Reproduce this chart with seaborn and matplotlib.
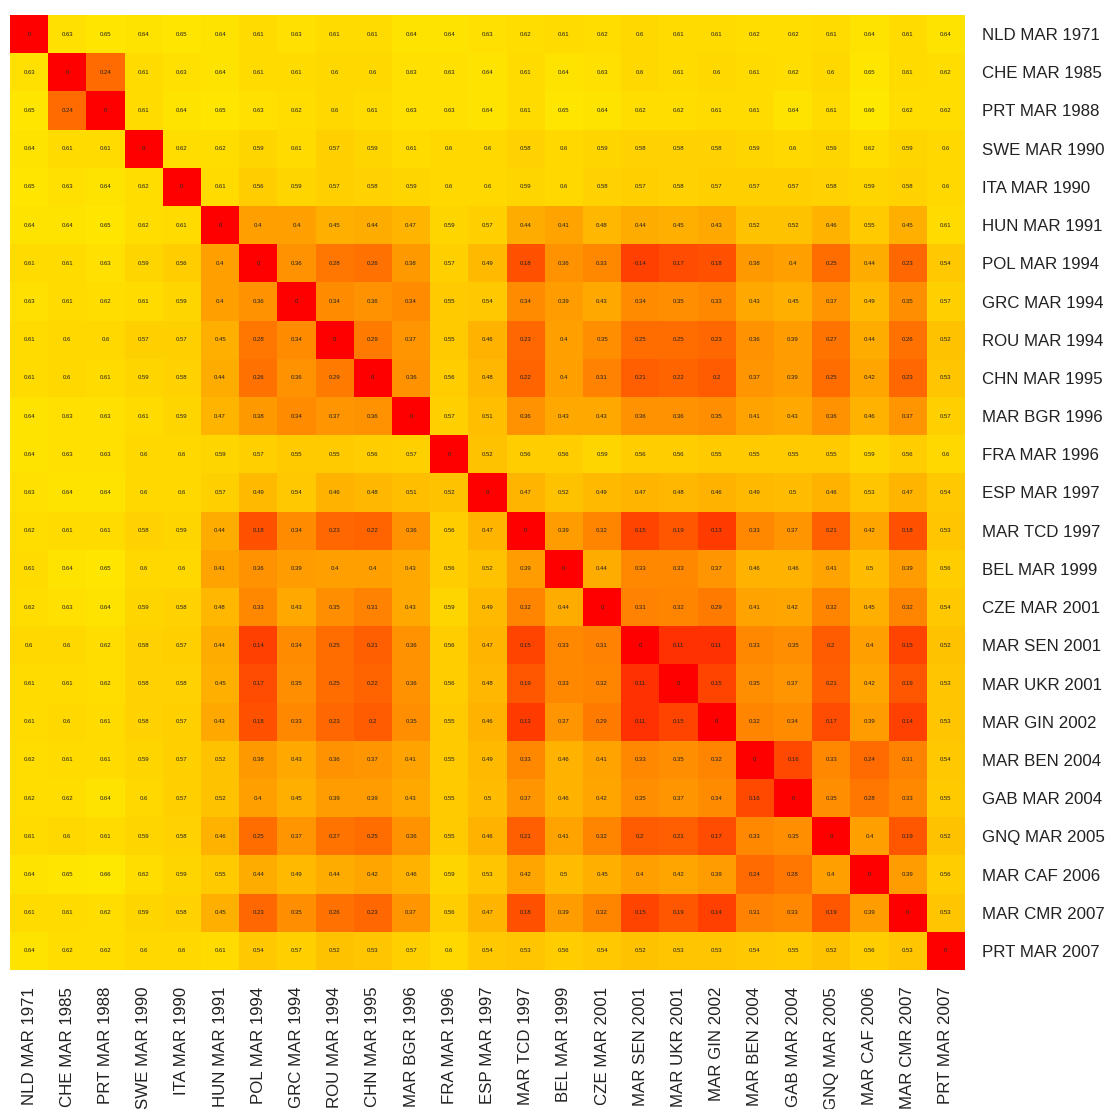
import numpy as np
import pandas as pd
import matplotlib
matplotlib.use("Agg")
import matplotlib.pyplot as plt
from matplotlib.colors import LinearSegmentedColormap
import seaborn as sns

labels = ["NLD MAR 1971", "CHE MAR 1985", "PRT MAR 1988", "SWE MAR 1990", "ITA MAR 1990",
          "HUN MAR 1991", "POL MAR 1994", "GRC MAR 1994", "ROU MAR 1994", "CHN MAR 1995",
          "MAR BGR 1996", "FRA MAR 1996", "ESP MAR 1997", "MAR TCD 1997", "BEL MAR 1999",
          "CZE MAR 2001", "MAR SEN 2001", "MAR UKR 2001", "MAR GIN 2002", "MAR BEN 2004",
          "GAB MAR 2004", "GNQ MAR 2005", "MAR CAF 2006", "MAR CMR 2007", "PRT MAR 2007"]

# lower triangle of the (symmetric) distance matrix, row by row, diagonal included
lower = [
    [0],
    [.63, 0],
    [.65, .24, 0],
    [.64, .61, .61, 0],
    [.65, .63, .64, .62, 0],
    [.64, .64, .65, .62, .61, 0],
    [.61, .61, .63, .59, .56, .40, 0],
    [.63, .61, .62, .61, .59, .40, .36, 0],
    [.61, .60, .60, .57, .57, .45, .28, .34, 0],
    [.61, .60, .61, .59, .58, .44, .26, .36, .29, 0],
    [.64, .63, .63, .61, .59, .47, .38, .34, .37, .36, 0],
    [.64, .63, .63, .60, .60, .59, .57, .55, .55, .56, .57, 0],
    [.63, .64, .64, .60, .60, .57, .49, .54, .46, .48, .51, .52, 0],
    [.62, .61, .61, .58, .59, .44, .18, .34, .23, .22, .36, .56, .47, 0],
    [.61, .64, .65, .60, .60, .41, .36, .39, .40, .40, .43, .56, .52, .39, 0],
    [.62, .63, .64, .59, .58, .48, .33, .43, .35, .31, .43, .59, .49, .32, .44, 0],
    [.60, .60, .62, .58, .57, .44, .14, .34, .25, .21, .36, .56, .47, .15, .33, .31, 0],
    [.61, .61, .62, .58, .58, .45, .17, .35, .25, .22, .36, .56, .48, .19, .33, .32, .11, 0],
    [.61, .60, .61, .58, .57, .43, .18, .33, .23, .20, .35, .55, .46, .13, .37, .29, .11, .15, 0],
    [.62, .61, .61, .59, .57, .52, .38, .43, .36, .37, .41, .55, .49, .33, .46, .41, .33, .35, .32, 0],
    [.62, .62, .64, .60, .57, .52, .40, .45, .39, .39, .43, .55, .50, .37, .46, .42, .35, .37, .34, .16, 0],
    [.61, .60, .61, .59, .58, .46, .25, .37, .27, .25, .36, .55, .46, .21, .41, .32, .20, .21, .17, .33, .35, 0],
    [.64, .65, .66, .62, .59, .55, .44, .49, .44, .42, .46, .59, .53, .42, .50, .45, .40, .42, .39, .24, .28, .40, 0],
    [.61, .61, .62, .59, .58, .45, .23, .35, .26, .23, .37, .56, .47, .18, .39, .32, .15, .19, .14, .31, .33, .19, .39, 0],
    [.64, .62, .62, .60, .60, .61, .54, .57, .52, .53, .57, .60, .54, .53, .56, .54, .52, .53, .53, .54, .55, .52, .56, .53, 0],
]

n = len(labels)
mat = np.zeros((n, n))
for i, row in enumerate(lower):
    for j, v in enumerate(row):
        mat[i, j] = v
        mat[j, i] = v
df = pd.DataFrame(mat, index=labels, columns=labels)
annot = np.vectorize(lambda v: "{:g}".format(v))(mat)

cmap = LinearSegmentedColormap.from_list("heatish", ["#FF0000", "#FF6400", "#FFAC00", "#FFE800"])

fig = plt.figure(figsize=(11.12, 11.09), dpi=100)
ax = fig.add_axes([10 / 1112, 1 - 970 / 1109, 955 / 1112, 955 / 1109])
sns.heatmap(df, ax=ax, cmap=cmap, vmin=0, vmax=0.66, cbar=False, annot=annot, fmt="",
            annot_kws={"fontsize": 4.3, "color": "#222222", "family": "Liberation Sans"},
            square=False, linewidths=0)
ax.yaxis.tick_right()
ax.set_yticks(np.arange(n) + 0.5)
ax.set_yticklabels(labels, rotation=0, fontsize=12.2, family="Liberation Sans", color="#222222")
ax.set_xticks(np.arange(n) + 0.5)
ax.set_xticklabels(labels, rotation=90, fontsize=12.2, family="Liberation Sans", color="#222222")
ax.tick_params(axis="y", length=0, pad=12)
ax.tick_params(axis="x", length=0, pad=12)
ax.set_xlabel("")
ax.set_ylabel("")
fig.savefig("out.png", dpi=100)
